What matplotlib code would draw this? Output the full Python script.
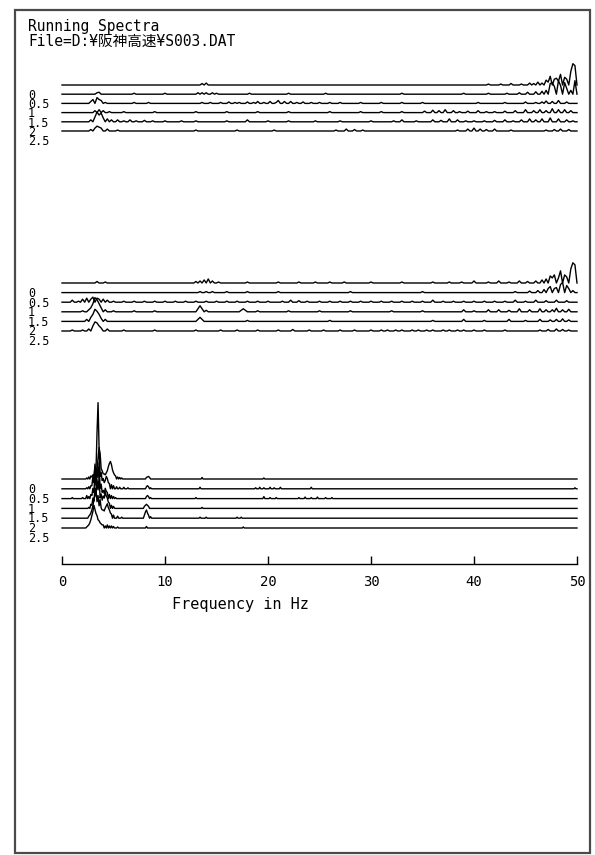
import numpy as np
import matplotlib
matplotlib.use('Agg')
import matplotlib.pyplot as plt
from matplotlib.patches import Rectangle

# ---------------- data ----------------
times = [0, 0.5, 1, 1.5, 2, 2.5]
time_labels = ['0', '0.5', '1', '1.5', '2', '2.5']
freq_ticks = [0, 10, 20, 30, 40, 50]
panel_freq_step = [0.2, 0.2, 0.1]

title_lines = ['Running Spectra', 'File=D:¥阪神高速¥S003.DAT']
xlabel = 'Frequency in Hz'

# spectral peaks (frequency Hz, amplitude)
# panel 1 (top)
p1_t0 = [(13.6, 1.5), (14.0, 2), (41.4, 1), (42.6, 1), (43.6, 1.5), (44.6, 1), (45.4, 2), (45.8, 1.5),
         (46.2, 3), (46.6, 2), (47.0, 5), (47.2, 3), (47.4, 9), (47.8, 6), (48.0, 7), (48.2, 4),
         (48.4, 11), (48.8, 8), (49.0, 6), (49.4, 14), (49.6, 22), (49.8, 20)]
p1_t1 = [(3.4, 1.5), (3.6, 2), (7.0, 1), (10.0, 1), (13.2, 1.5), (13.6, 1.5), (14.0, 1.5), (14.6, 1.5),
         (15.0, 1), (18.2, 1), (22.0, 1), (25.6, 1), (33.0, 1), (39.0, 1), (41.4, 1), (43.2, 1),
         (44.4, 1.5), (45.2, 2), (46.0, 2.5), (46.6, 3), (47.0, 4), (47.4, 11), (47.6, 12), (47.8, 8),
         (48.2, 14), (48.4, 9), (48.8, 12), (49.0, 6), (49.4, 4), (49.8, 14)]
p1_t2 = [(2.8, 2), (3.0, 4), (3.4, 6), (3.6, 4), (3.8, 3), (4.2, 1), (7.0, 1), (8.4, 1), (13.6, 1),
         (14.4, 1), (15.4, 1), (16.2, 1.5), (16.8, 1), (17.2, 1), (18.0, 1.5), (18.6, 1), (19.0, 2),
         (19.6, 1), (20.2, 2), (20.8, 1), (21.0, 3), (21.6, 2), (22.2, 2), (22.8, 1), (23.4, 1.5),
         (24.2, 1), (25.0, 1), (26.0, 1), (27.0, 1), (29.0, 1), (31.0, 1), (33.0, 1), (35.0, 1),
         (40.4, 1), (43.0, 1), (45.0, 1.5), (46.0, 1), (46.6, 1.5), (47.0, 2.5), (47.6, 2), (48.2, 3),
         (49.0, 1.5)]
p1_t3 = [(3.2, 2), (3.6, 3), (4.0, 2), (4.6, 1), (6.0, 1), (9.0, 1), (13.0, 1), (16.0, 1), (19.0, 1),
         (22.0, 1), (26.0, 1), (29.0, 1), (31.0, 1), (33.0, 1), (35.2, 1.5), (36.0, 2.5), (36.6, 2),
         (37.2, 3), (38.0, 2), (38.6, 1), (39.4, 1.5), (40.4, 2), (41.2, 1), (42.0, 1), (43.0, 1.5),
         (44.0, 2), (45.0, 3), (45.8, 2), (46.4, 3), (47.0, 2), (47.6, 4), (48.2, 3), (48.8, 3),
         (49.4, 2)]
p1_t4 = [(2.8, 2), (3.2, 5), (3.4, 10), (3.6, 7), (3.8, 9), (4.0, 4), (4.4, 3), (4.8, 2), (5.4, 2),
         (6.0, 1), (6.6, 2), (7.2, 1), (8.0, 1.5), (8.8, 1), (10.0, 1), (11.6, 1), (13.0, 1),
         (16.0, 1), (18.0, 2), (20.0, 1), (22.0, 1), (24.6, 1), (27.0, 1), (30.0, 1), (32.2, 1),
         (33.0, 2), (34.4, 1), (36.0, 2), (36.8, 1.5), (37.6, 3), (38.4, 2), (39.2, 1), (40.0, 1),
         (41.0, 1), (42.0, 1.5), (43.0, 2), (43.8, 1), (44.6, 2), (45.4, 3), (46.0, 2), (46.6, 3),
         (47.4, 4), (48.2, 3), (49.0, 2), (49.6, 1)]
p1_t5 = [(2.8, 1.5), (3.2, 3), (3.4, 5), (3.6, 4), (3.8, 3), (4.4, 2), (5.4, 1), (13.0, 1), (17.0, 1),
         (20.6, 1), (26.6, 1), (27.6, 2), (28.4, 1.5), (29.2, 1), (38.4, 1), (39.4, 2), (40.0, 3),
         (40.6, 2), (41.2, 1.5), (42.0, 2), (43.6, 1), (47.0, 1), (47.8, 1.5), (48.4, 2), (49.2, 1.5)]

# panel 2 (middle)
p2_t0 = [(3.4, 1.5), (4.2, 1), (13.0, 1.5), (13.4, 2), (13.8, 3), (14.2, 4), (14.6, 2), (15.2, 1),
         (18.0, 1), (21.0, 1), (23.0, 1), (24.6, 1), (26.0, 1), (27.4, 1), (30.0, 1), (33.0, 1),
         (36.0, 1), (37.6, 1), (38.8, 1), (40.0, 2), (41.4, 1), (42.4, 2), (43.4, 1), (44.4, 2),
         (45.2, 1.5), (46.0, 2), (46.6, 3), (47.0, 4), (47.4, 7), (47.6, 5), (47.8, 8), (48.2, 5),
         (48.4, 12), (48.8, 8), (49.0, 6), (49.4, 14), (49.6, 20), (49.8, 18)]
p2_t1 = [(13.4, 1), (14.0, 1), (14.6, 1), (16.0, 1), (18.0, 1), (21.0, 1), (28.0, 1), (35.0, 1),
         (44.0, 1), (45.4, 1.5), (46.2, 2), (46.8, 3), (47.2, 4), (47.4, 6), (47.8, 4), (48.0, 5),
         (48.4, 8), (48.6, 10), (49.0, 7), (49.2, 4), (49.6, 2)]
p2_t2 = [(1.0, 2), (1.6, 1), (2.0, 3), (2.4, 4), (2.8, 3), (3.0, 5), (3.4, 4), (3.6, 3), (4.0, 3),
         (4.4, 2), (5.0, 1), (6.0, 1), (7.0, 1), (8.0, 1), (9.0, 1), (10.0, 1), (11.0, 1), (12.0, 1),
         (13.0, 1), (14.0, 1), (15.0, 1), (16.0, 1), (17.0, 1), (18.0, 1), (19.0, 1), (20.0, 1),
         (21.4, 1), (22.2, 2), (23.0, 1.5), (23.8, 1), (25.0, 1), (26.0, 1), (27.0, 1), (28.0, 1),
         (29.0, 1), (30.0, 1), (31.0, 1), (32.0, 1), (33.0, 1), (34.0, 1), (35.0, 1), (36.0, 2),
         (37.0, 1), (38.0, 1), (39.0, 1), (40.0, 1), (41.0, 1), (42.0, 1), (43.0, 1), (44.0, 2),
         (45.0, 1), (46.0, 2), (47.0, 1.5), (48.0, 2), (49.0, 1.5)]
p2_t3 = [(2.0, 1), (2.6, 2), (2.8, 4), (3.0, 8), (3.2, 14), (3.4, 12), (3.6, 8), (3.8, 4), (4.2, 2),
         (5.0, 1), (7.0, 1), (9.0, 1), (13.2, 3), (13.4, 6), (13.6, 3), (14.0, 1.5), (17.4, 1.5),
         (17.6, 3), (17.8, 1.5), (19.0, 1), (22.0, 1), (25.0, 1), (28.0, 1), (32.0, 1), (35.0, 1),
         (39.0, 2), (40.0, 1), (41.4, 2), (42.4, 2), (43.4, 1.5), (44.4, 3), (45.4, 2), (46.4, 3),
         (47.0, 2), (47.6, 2), (48.0, 3.5), (48.6, 2), (49.2, 2.5)]
p2_t4 = [(2.4, 2), (2.8, 4), (3.0, 7), (3.2, 12), (3.4, 10), (3.6, 7), (3.8, 3), (4.2, 2),
         (13.2, 2), (13.4, 4), (13.6, 2), (18.0, 1), (26.0, 1), (36.0, 1), (39.0, 2), (41.0, 1),
         (43.4, 2), (45.0, 1), (46.4, 2), (47.4, 1.5), (48.0, 2), (48.6, 2.5), (49.2, 1.5)]
p2_t5 = [(1.0, 1), (2.0, 1), (2.6, 2), (3.0, 5), (3.2, 9), (3.4, 8), (3.6, 5), (3.8, 3), (4.4, 2),
         (6.0, 1), (9.0, 1), (13.0, 1), (15.4, 1), (17.0, 1), (19.0, 1), (21.0, 1), (22.4, 1.5),
         (24.0, 1), (25.4, 1), (27.0, 1), (28.4, 1), (30.0, 1), (31.0, 1), (31.6, 1), (32.4, 1),
         (33.0, 1), (34.0, 1), (34.6, 1), (35.4, 1), (36.0, 1), (37.0, 1), (37.6, 1), (38.4, 1),
         (39.0, 1), (40.0, 1), (41.0, 1), (43.0, 1), (46.4, 1), (47.2, 1.5), (48.0, 2), (48.6, 1.5),
         (49.2, 1)]

# panel 3 (bottom) - 0.1 Hz detail
p3_t0 = [(2.4, 1), (2.6, 2), (2.8, 3), (2.9, 2), (3.0, 4), (3.1, 3), (3.2, 12), (3.3, 8), (3.4, 45),
         (3.5, 74), (3.6, 30), (3.7, 25), (3.8, 10), (3.9, 8), (4.0, 5), (4.1, 5), (4.2, 4), (4.3, 6),
         (4.4, 8), (4.5, 12), (4.6, 15), (4.7, 17), (4.8, 14), (4.9, 9), (5.0, 6), (5.1, 4), (5.2, 3),
         (5.4, 2), (5.6, 1.5), (5.8, 1), (8.2, 1.5), (8.3, 2), (8.4, 2.5), (8.5, 1.5), (13.6, 1.5),
         (19.6, 1)]
p3_t1 = [(2.4, 1), (2.6, 2), (2.8, 3), (2.9, 3), (3.0, 12), (3.1, 6), (3.2, 24), (3.3, 10),
         (3.4, 18), (3.5, 30), (3.6, 40), (3.7, 12), (3.8, 16), (3.9, 8), (4.0, 10), (4.1, 6),
         (4.2, 8), (4.3, 12), (4.4, 10), (4.5, 6), (4.6, 5), (4.8, 4), (5.0, 3), (5.3, 2), (5.6, 1.5),
         (6.0, 1.5), (6.4, 1), (8.2, 2), (8.3, 3), (8.4, 2), (8.6, 1), (13.4, 1.5), (18.8, 1),
         (19.2, 1.5), (19.6, 1), (20.2, 1.5), (20.6, 1), (21.2, 1.5), (24.2, 1.5), (49.8, 1)]
p3_t2 = [(1.0, 1), (2.0, 1), (2.4, 3), (2.6, 2), (2.8, 4), (2.9, 3), (3.0, 10), (3.1, 6), (3.2, 25),
         (3.3, 12), (3.4, 30), (3.5, 20), (3.6, 35), (3.7, 10), (3.8, 14), (3.9, 6), (4.0, 8),
         (4.1, 5), (4.2, 10), (4.3, 7), (4.4, 6), (4.6, 4), (4.8, 3), (5.0, 2), (5.2, 1), (8.2, 2),
         (8.3, 3), (8.4, 2), (8.6, 1), (13.0, 1), (19.6, 2), (20.2, 1), (20.8, 1), (23.0, 1),
         (23.6, 1.5), (24.2, 1), (24.8, 1.5), (25.6, 1), (26.2, 1)]
p3_t3 = [(2.6, 1), (2.8, 4), (2.9, 3), (3.0, 10), (3.1, 7), (3.2, 20), (3.3, 12), (3.4, 28),
         (3.5, 18), (3.6, 30), (3.7, 10), (3.8, 14), (3.9, 8), (4.0, 12), (4.1, 10), (4.2, 16),
         (4.3, 12), (4.4, 10), (4.5, 6), (4.6, 5), (4.8, 3), (5.0, 2), (8.0, 2), (8.1, 3), (8.2, 4),
         (8.3, 3), (8.4, 2), (13.6, 1)]
p3_t4 = [(2.6, 2), (2.7, 3), (2.8, 5), (2.9, 8), (3.0, 12), (3.1, 18), (3.2, 22), (3.3, 28),
         (3.4, 16), (3.5, 22), (3.6, 12), (3.7, 18), (3.8, 10), (3.9, 8), (4.0, 8), (4.1, 7),
         (4.2, 10), (4.3, 12), (4.4, 14), (4.5, 10), (4.6, 8), (4.7, 5), (4.8, 4), (5.0, 3),
         (5.4, 2), (5.8, 1), (8.0, 3), (8.1, 6), (8.2, 8), (8.3, 5), (8.4, 3), (8.6, 1.5),
         (13.4, 1), (14.0, 1), (17.0, 1), (17.4, 1)]
p3_t5 = [(2.4, 1), (2.5, 2), (2.6, 3), (2.7, 5), (2.8, 8), (2.9, 12), (3.0, 16), (3.1, 22),
         (3.2, 18), (3.3, 14), (3.4, 12), (3.5, 8), (3.6, 7), (3.7, 5), (3.8, 4), (3.9, 3), (4.0, 3),
         (4.2, 2), (4.4, 3), (4.6, 2), (4.8, 2), (5.0, 1.5), (5.4, 1), (8.2, 1.5), (17.6, 1)]

panel_peaks = [
    [p1_t0, p1_t1, p1_t2, p1_t3, p1_t4, p1_t5],
    [p2_t0, p2_t1, p2_t2, p2_t3, p2_t4, p2_t5],
    [p3_t0, p3_t1, p3_t2, p3_t3, p3_t4, p3_t5],
]

# ---------------- layout ----------------
W, H = 595, 855
X0, X1 = 62, 577            # pixel position of 0 Hz and 50 Hz
panel_layout = [            # first trace baseline px, trace spacing px, axes top px, axes bottom px
    (85, 9.2, 40, 150),
    (283, 9.6, 240, 345),
    (479, 9.8, 390, 564),
]
AMP_SCALE = 0.5 / 9.5       # amplitude units -> seconds offset
mono = ['DejaVu Sans Mono', 'Noto Sans CJK JP']


def spectrum(peaks, step):
    freqs = np.round(np.arange(0, 50 + step / 2, step), 1)
    amp = np.zeros_like(freqs)
    for f, a in peaks:
        i = int(round(f / step))
        amp[i] = max(amp[i], a)
    return freqs, amp


fig = plt.figure(figsize=(W / 100, H / 100), dpi=100)
fig.patch.set_facecolor('white')

# outer frame
fig.add_artist(Rectangle((15 / W, 1 - 853 / H), (590 - 15) / W, (853 - 10) / H,
                         transform=fig.transFigure, fill=False, ec='#4a4a4a', lw=1.6))

# title
fig.text(28 / W, 1 - 27 / H, title_lines[0], family=mono, fontsize=10.5, va='center', ha='left')
fig.text(28 / W, 1 - 41 / H, title_lines[1], family=mono, fontsize=10.5, va='center', ha='left')

for p, (y0, sp, top, bottom) in enumerate(panel_layout):
    ax = fig.add_axes([X0 / W, 1 - bottom / H, (X1 - X0) / W, (bottom - top) / H])
    unit = sp / 0.5
    ax.set_xlim(0, 50)
    ax.set_ylim((bottom - y0) / unit, (top - y0) / unit)
    ax.patch.set_alpha(0)
    for t, peaks in zip(times, panel_peaks[p]):
        freqs, amp = spectrum(peaks, panel_freq_step[p])
        ax.plot(freqs, t - amp * AMP_SCALE, color='black', lw=1.0, clip_on=False)
    # time labels
    for t, lab in zip(times, time_labels):
        ypx = y0 + t * unit + 10.5
        fig.text(28 / W, 1 - ypx / H, lab, family=mono, fontsize=8.5, va='center', ha='left')
    for s in ['top', 'right', 'left']:
        ax.spines[s].set_visible(False)
    ax.set_yticks([])
    if p < 2:
        ax.spines['bottom'].set_visible(False)
        ax.set_xticks([])
    else:
        ax.spines['bottom'].set_linewidth(1.0)
        ax.set_xticks(freq_ticks)
        ax.set_xticklabels([str(v) for v in freq_ticks], family=mono, fontsize=10)
        ax.tick_params(axis='x', direction='in', length=6, width=1.0, pad=8)
        fig.text(172 / W, 1 - 604 / H, xlabel, family=mono, fontsize=11, va='center', ha='left')

fig.savefig('out.png', dpi=100)
